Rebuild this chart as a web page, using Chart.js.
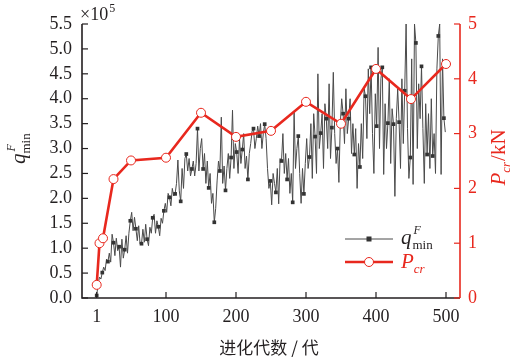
<!DOCTYPE html>
<html><head><meta charset="utf-8">
<script src="https://cdn.jsdelivr.net/npm/chart.js@4/dist/chart.umd.min.js"></script>
<style>html,body{margin:0;padding:0;background:#fff}#wrap{width:512px;height:358px}
.pre{font-family:"Liberation Serif";position:absolute;left:-999px;top:-999px}
.pre2{font-family:"Noto Sans CJK SC";position:absolute;left:-999px;top:-999px}</style>
</head><body><span class="pre">1.0 <i>q</i></span><span class="pre2">进化代数</span><div id="wrap"><canvas id="c" width="512" height="358"></canvas></div>
<script>
// q^F_min (×10^5), sampled every 2 generations starting at generation 1
const genStart = 1, genStep = 2;
const qMin = [
0.05,0.28,0.42,0.38, 0.51,0.62,0.55,0.78, 0.73,0.90,0.72,1.28, 1.11,0.85,1.20,0.95,
1.03,0.62,1.18,0.80, 0.97,1.25,0.90,1.30, 1.55,1.72,1.35,1.62, 1.39,1.15,1.45,1.08,
1.09,1.38,1.12,1.48, 1.18,1.05,1.42,1.30, 1.61,1.68,1.30,1.55, 1.43,1.25,1.60,1.50,
1.75,1.90,1.72,2.10, 2.02,1.85,2.20,2.05, 2.09,2.30,2.77,2.15, 1.94,2.60,2.20,2.80,
2.89,2.55,2.80,2.45, 2.59,2.75,2.45,2.70, 3.40,2.55,3.00,3.20, 2.59,2.90,2.30,2.75,
2.21,2.50,1.90,2.10, 1.52,1.80,2.35,2.75, 2.55,3.63,2.30,2.65, 2.16,2.60,2.90,2.40,
2.82,3.77,2.60,3.10, 2.93,2.50,3.20,2.70, 2.98,3.30,2.60,2.85, 2.38,2.90,3.10,3.35,
3.40,3.00,3.20,3.45, 3.25,3.50,3.00,3.30, 3.49,3.20,2.60,2.20, 2.35,1.87,2.50,2.30,
2.12,2.60,1.89,2.80, 2.75,3.30,2.50,2.90, 2.38,2.80,2.10,2.50, 1.92,3.73,2.60,3.00,
3.25,2.50,1.90,2.60, 2.09,2.70,3.20,2.60, 2.83,3.50,2.40,3.70, 3.24,2.50,4.50,3.00,
3.31,3.70,2.60,3.90, 3.60,3.00,4.30,2.80, 3.42,4.53,3.30,2.70, 3.00,2.32,3.50,4.00,
3.70,3.10,4.20,3.30, 3.60,4.00,2.90,3.50, 2.88,3.40,2.20,3.10, 2.63,3.50,2.80,4.20,
4.05,3.20,4.60,3.70, 4.63,3.30,2.50,4.10, 3.45,5.03,3.00,4.40, 4.63,2.48,3.90,3.00,
3.51,4.40,2.70,3.80, 3.49,2.04,3.60,4.20, 3.53,2.60,4.40,3.10, 4.16,5.50,3.40,2.40,
2.82,4.80,2.28,5.50, 5.12,3.00,4.30,3.60, 4.65,3.40,2.30,3.90, 2.88,3.70,2.60,4.00,
2.85,3.30,2.50,4.60, 5.26,5.50,2.48,4.80, 3.61,3.33
];
// P_cr (kN)
const pcrGen = [1, 5, 10, 25, 50, 100, 150, 200, 250, 300, 350, 400, 450, 500];
const pcrVal = [0.24, 1.00, 1.09, 2.17, 2.51, 2.56, 3.38, 2.94, 3.05, 3.58, 3.18, 4.18, 3.63, 4.27];
const xTicks = [1, 100, 200, 300, 400, 500];
const yLeftTicks = [0,0.5,1,1.5,2,2.5,3,3.5,4,4.5,5,5.5];
const yRightTicks = [0,1,2,3,4,5];

const RED = '#e8281e', INK = '#231f20', GREY = '#4a4a4a';
const SERIF = '"Liberation Serif", serif';

const qPoints = qMin.map((v,i)=>({x: genStart + genStep*i, y: v}));
const pPoints = pcrGen.map((g,i)=>({x: g, y: pcrVal[i]}));

const decor = {
  id:'decor',
  afterDraw(chart){
    const {ctx, chartArea:a, scales} = chart;
    const xs = scales.x, yl = scales.y, yr = scales.y2;
    ctx.save();
    ctx.lineCap='butt';
    ctx.lineWidth = 1.6;
    ctx.strokeStyle = INK;
    ctx.beginPath(); ctx.moveTo(a.left, a.top); ctx.lineTo(a.left, a.bottom); ctx.lineTo(a.right, a.bottom); ctx.stroke();
    ctx.strokeStyle = RED;
    ctx.beginPath(); ctx.moveTo(a.right, a.bottom); ctx.lineTo(a.right, yr.getPixelForValue(5)); ctx.stroke();
    ctx.lineWidth = 1.2;
    ctx.strokeStyle = INK;
    xTicks.forEach(v=>{const p=xs.getPixelForValue(v); ctx.beginPath(); ctx.moveTo(p,a.bottom); ctx.lineTo(p,a.bottom-6); ctx.stroke();});
    yLeftTicks.forEach(v=>{const p=yl.getPixelForValue(v); ctx.beginPath(); ctx.moveTo(a.left,p); ctx.lineTo(a.left+6,p); ctx.stroke();});
    ctx.strokeStyle = RED;
    yRightTicks.forEach(v=>{const p=yr.getPixelForValue(v); ctx.beginPath(); ctx.moveTo(a.right,p); ctx.lineTo(a.right-6,p); ctx.stroke();});

    ctx.textBaseline = 'alphabetic'; ctx.textAlign='left';
    // ×10^5
    ctx.fillStyle = INK;
    ctx.font = '18px '+SERIF; ctx.fillText('×10', 80, 20);
    const w10 = ctx.measureText('×10').width;
    ctx.font = '12px '+SERIF; ctx.fillText('5', 80+w10+1, 12);

    // x title
    ctx.font = '17px "Noto Sans CJK SC"';
    ctx.textAlign='center';
    ctx.fillText('进化代数 / 代', 269, 354);
    ctx.textAlign='left';

    // left title (rotated)
    ctx.save();
    ctx.translate(25, 150); ctx.rotate(-Math.PI/2);
    ctx.fillStyle = INK;
    ctx.font='italic 21px '+SERIF; const wq = ctx.measureText('q').width;
    ctx.fillText('q', -14, 0);
    ctx.font='italic 12px '+SERIF; ctx.fillText('F', -14+wq+2, -10);
    ctx.font='13px '+SERIF; ctx.fillText('min', -14+wq, 5);
    ctx.restore();

    // right title (rotated)
    ctx.save();
    ctx.translate(505, 158); ctx.rotate(-Math.PI/2);
    ctx.fillStyle = RED;
    ctx.font='italic 21px '+SERIF; const wP = ctx.measureText('P').width;
    ctx.font='italic 13px '+SERIF; const wcr = ctx.measureText('cr').width;
    ctx.font='21px '+SERIF; const wk = ctx.measureText('/kN').width;
    let sx = -(wP+wcr+wk)/2;
    ctx.font='italic 21px '+SERIF; ctx.fillText('P', sx, 0);
    ctx.font='italic 13px '+SERIF; ctx.fillText('cr', sx+wP, 5);
    ctx.font='21px '+SERIF; ctx.fillText('/kN', sx+wP+wcr+1, 0);
    ctx.restore();

    // legend
    const lx0 = 345, lx1 = 393, ly1 = 239, ly2 = 262;
    ctx.strokeStyle = GREY; ctx.lineWidth = 1;
    ctx.beginPath(); ctx.moveTo(lx0, ly1); ctx.lineTo(lx1, ly1); ctx.stroke();
    ctx.fillStyle = '#333'; ctx.fillRect((lx0+lx1)/2-2.5, ly1-2.5, 5, 5);
    ctx.strokeStyle = RED; ctx.lineWidth = 2.6;
    ctx.beginPath(); ctx.moveTo(lx0, ly2); ctx.lineTo(lx1, ly2); ctx.stroke();
    ctx.beginPath(); ctx.arc((lx0+lx1)/2, ly2, 4.5, 0, Math.PI*2);
    ctx.fillStyle='#fff'; ctx.fill(); ctx.lineWidth=1; ctx.stroke();

    ctx.fillStyle = INK;
    ctx.font='italic 21px '+SERIF; ctx.fillText('q', 401, 244);
    const wq2 = ctx.measureText('q').width;
    ctx.font='italic 12px '+SERIF; ctx.fillText('F', 403+wq2, 234);
    ctx.font='13px '+SERIF; ctx.fillText('min', 402+wq2, 249);
    ctx.fillStyle = RED;
    ctx.font='italic 21px '+SERIF; ctx.fillText('P', 401, 268);
    const wP2 = ctx.measureText('P').width;
    ctx.font='italic 13px '+SERIF; ctx.fillText('cr', 401+wP2, 273);
    ctx.restore();
  }
};

function build(){
  Chart.defaults.font.family = SERIF;
  new Chart(document.getElementById('c'), {
    type: 'line',
    data: {
      datasets: [
        {
          label: 'P_cr', data: pPoints, yAxisID: 'y2', order: 0,
          borderColor: RED, borderWidth: 2.6, backgroundColor: '#fff',
          pointRadius: 4.5, pointBorderWidth: 1, pointBorderColor: RED, pointBackgroundColor: '#fff',
          tension: 0
        },
        {
          label: 'q', data: qPoints, yAxisID: 'y', order: 1,
          borderColor: GREY, borderWidth: 1, tension: 0,
          pointStyle: 'rect', pointBackgroundColor: '#333', pointBorderColor: '#333', pointBorderWidth: 0,
          pointRadius: ctx => (ctx.dataIndex % 4 === 0 ? 2.6 : 0)
        }
      ]
    },
    options: {
      responsive: false, animation: false, devicePixelRatio: 1,
      layout: { padding: { top: 24, left: 0, right: 0, bottom: 0 } },
      plugins: { legend: { display: false }, tooltip: { enabled: false } },
      scales: {
        x: {
          type: 'linear', min: -20, max: 520,
          afterBuildTicks: s => { s.ticks = xTicks.map(v => ({ value: v })); },
          afterFit: s => { s.height = 60; },
          grid: { display: false, drawTicks: false }, border: { display: false },
          ticks: { color: INK, font: { family: SERIF, size: 18 }, padding: 8, maxRotation: 0, autoSkip: false,
            callback: v => String(v) }
        },
        y: {
          position: 'left', min: 0, max: 5.5,
          afterBuildTicks: s => { s.ticks = yLeftTicks.map(v => ({ value: v })); },
          afterFit: s => { s.width = 82; },
          grid: { display: false, drawTicks: false }, border: { display: false },
          ticks: { color: INK, font: { family: SERIF, size: 18 }, padding: 10, autoSkip: false,
            callback: v => Number(v).toFixed(1) }
        },
        y2: {
          position: 'right', min: 0, max: 5,
          afterBuildTicks: s => { s.ticks = yRightTicks.map(v => ({ value: v })); },
          afterFit: s => { s.width = 52; },
          grid: { display: false, drawTicks: false }, border: { display: false },
          ticks: { color: RED, font: { family: SERIF, size: 18 }, padding: 8, autoSkip: false,
            callback: v => String(v) }
        }
      }
    },
    plugins: [decor]
  });
}
Promise.all([
  document.fonts.load('18px "Liberation Serif"'),
  document.fonts.load('italic 21px "Liberation Serif"'),
  document.fonts.load('17px "Noto Sans CJK SC"', '进化代数')
]).then(build, build);
</script>
</body></html>
